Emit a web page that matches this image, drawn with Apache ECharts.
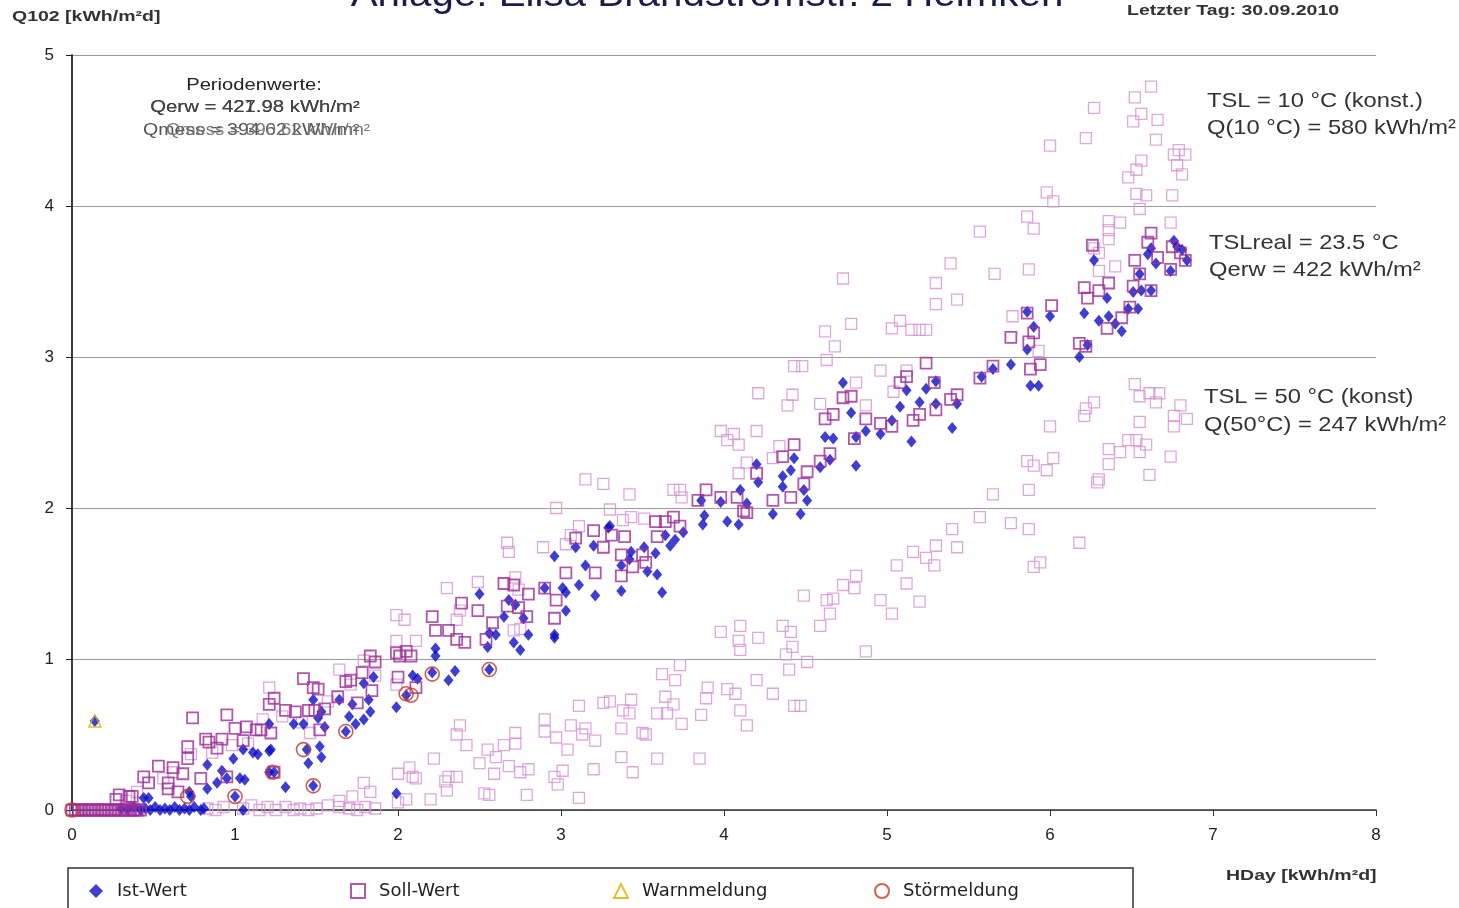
<!DOCTYPE html>
<html><head><meta charset="utf-8">
<script src="https://cdn.jsdelivr.net/npm/echarts@6/dist/echarts.min.js"></script>
<style>html,body{margin:0;padding:0;background:#fff}#c{width:1459px;height:908px}</style>
</head><body><div id="c"></div>
<script>
// ---- data (x = HDay kWh/m²d, y = Q102 kWh/m²d) ----
const xTicks = [0, 1, 2, 3, 4, 5, 6, 7, 8];
const yTicks = [0, 1, 2, 3, 4, 5];

const istWert = [
[0.14,0.59],
[0.30,0.01],[0.34,0.0],[0.38,0.02],[0.42,0.0],[0.45,0.01],[0.48,0.0],[0.51,0.02],[0.54,0.0],[0.57,0.01],[0.60,0.0],[0.63,0.02],[0.66,0.0],[0.69,0.01],[0.72,0.0],[0.75,0.02],[0.79,0.0],[0.81,0.01],[1.05,0.0],
[0.44,0.08],[0.47,0.08],[0.72,0.12],[0.73,0.09],[0.83,0.14],[0.89,0.18],[0.92,0.26],[0.95,0.21],[0.83,0.30],[1.00,0.09],[1.03,0.21],[1.06,0.20],[0.99,0.34],[1.05,0.40],[1.11,0.38],[1.14,0.37],[1.21,0.39],[1.22,0.40],[1.21,0.25],[1.24,0.25],[1.31,0.15],[1.21,0.57],[1.36,0.57],[1.44,0.40],[1.45,0.31],[1.52,0.42],[1.53,0.35],[1.48,0.16],[1.42,0.57],[1.48,0.73],[1.51,0.61],[1.55,0.55],[1.53,0.65],[1.64,0.73],[1.68,0.52],[1.70,0.62],[1.72,0.70],[1.74,0.57],[1.79,0.60],[1.83,0.65],[1.82,0.73],[1.85,0.88],[1.79,0.84],[1.99,0.68],[1.99,0.11],
[2.05,0.76],[2.09,0.89],[2.12,0.87],[2.21,0.91],[2.23,1.02],[2.23,1.07],[2.31,0.86],[2.35,0.92],[2.50,1.43],[2.55,1.08],[2.56,1.17],[2.56,0.93],[2.60,1.16],[2.65,1.28],[2.68,1.39],[2.72,1.36],[2.71,1.11],[2.75,1.06],[2.77,1.27],[2.80,1.16],[2.90,1.47],[2.96,1.68],[2.96,1.16],[2.96,1.14],
[3.01,1.47],[3.03,1.44],[3.03,1.32],[3.09,1.74],[3.11,1.49],[3.15,1.62],[3.20,1.75],[3.21,1.42],[3.29,1.87],[3.30,1.88],[3.37,1.62],[3.37,1.45],[3.43,1.71],[3.42,1.66],[3.51,1.74],[3.53,1.58],[3.58,1.70],[3.59,1.56],[3.62,1.44],[3.64,1.82],[3.67,1.75],[3.70,1.79],[3.75,1.84],[3.86,2.05],[3.87,1.89],[3.88,1.95],[3.98,2.04],
[4.02,1.91],[4.09,1.89],[4.10,2.12],[4.14,2.03],[4.20,2.29],[4.21,2.17],[4.30,1.96],[4.36,2.21],[4.36,2.14],[4.41,2.25],[4.43,2.33],[4.47,1.96],[4.49,2.12],[4.51,2.05],[4.59,2.27],[4.62,2.47],[4.65,2.32],[4.67,2.46],[4.73,2.83],[4.78,2.63],[4.81,2.28],[4.81,2.47],[4.87,2.51],[4.96,2.49],
[5.03,2.58],[5.08,2.67],[5.12,2.78],[5.15,2.44],[5.20,2.70],[5.24,2.79],[5.30,2.84],[5.30,2.69],[5.40,2.53],[5.43,2.69],[5.58,2.87],[5.65,2.92],[5.76,2.95],[5.86,3.30],[5.86,3.05],[5.90,3.20],[5.88,2.81],[5.93,2.81],
[6.00,3.27],[6.18,3.00],[6.23,3.08],[6.21,3.29],[6.27,3.64],[6.30,3.24],[6.36,3.27],[6.35,3.39],[6.40,3.22],[6.44,3.17],[6.48,3.32],[6.54,3.32],[6.51,3.43],[6.56,3.44],[6.55,3.55],[6.60,3.68],[6.62,3.72],[6.65,3.62],[6.62,3.44],[6.76,3.77],[6.74,3.57],[6.81,3.71],[6.84,3.64],[6.78,3.73]
];

const sollWert = [
[0,0],[0.02,0],[0.04,0],[0.06,0],[0.08,0],[0.10,0],[0.12,0],[0.14,0],[0.16,0],[0.18,0],[0.20,0],[0.22,0],[0.24,0],[0.26,0],[0.28,0],[0.30,0],[0.32,0],[0.34,0],[0.36,0],[0.38,0],[0.40,0],[0.42,0],
[0.27,0.07],[0.29,0.10],[0.35,0.09],[0.37,0.09],[0.44,0.22],[0.47,0.18],[0.53,0.29],[0.59,0.18],[0.59,0.14],[0.62,0.28],[0.65,0.12],[0.68,0.24],[0.71,0.42],[0.71,0.34],[0.74,0.61],[0.79,0.21],[0.82,0.47],[0.84,0.45],[0.89,0.41],[0.92,0.47],[0.95,0.63],[0.95,0.22],[1.00,0.54],[1.05,0.46],[1.07,0.55],[1.13,0.53],[1.16,0.53],[1.21,0.70],[1.22,0.51],[1.24,0.74],[1.24,0.25],[1.31,0.66],[1.37,0.65],[1.42,0.87],[1.45,0.66],[1.48,0.81],[1.51,0.80],[1.49,0.66],[1.52,0.53],[1.55,0.67],[1.63,0.75],[1.68,0.85],[1.71,0.86],[1.75,0.71],[1.78,0.91],[1.83,1.02],[1.86,0.98],[1.84,0.79],
[1.99,1.04],[2.00,0.88],[2.01,1.02],[2.05,1.05],[2.08,1.02],[2.11,0.81],[2.21,1.28],[2.23,1.19],[2.31,1.19],[2.36,1.13],[2.39,1.37],[2.41,1.11],[2.49,1.32],[2.54,1.13],[2.58,1.24],[2.65,1.50],[2.67,1.35],[2.71,1.49],[2.74,1.34],[2.79,1.28],[2.80,1.43],[2.90,1.47],[2.96,1.27],[2.97,1.39],
[3.03,1.57],[3.09,1.80],[3.20,1.85],[3.21,1.57],[3.26,1.74],[3.31,1.82],[3.37,1.69],[3.37,1.55],[3.39,1.81],[3.44,1.61],[3.50,1.69],[3.52,1.64],[3.58,1.91],[3.59,1.81],[3.64,1.91],[3.69,1.94],[3.73,1.88],[3.84,2.05],[3.89,2.12],[3.98,2.07],
[4.08,2.07],[4.12,1.98],[4.14,1.97],[4.20,2.23],[4.30,2.05],[4.36,2.34],[4.41,2.07],[4.43,2.42],[4.49,2.16],[4.51,2.24],[4.59,2.31],[4.62,2.59],[4.65,2.36],[4.67,2.62],[4.73,2.73],[4.78,2.74],[4.80,2.46],[4.87,2.59],[4.96,2.56],
[5.03,2.54],[5.08,2.83],[5.12,2.87],[5.16,2.58],[5.20,2.62],[5.24,2.96],[5.29,2.83],[5.30,2.65],[5.39,2.72],[5.43,2.75],[5.57,2.86],[5.65,2.94],[5.76,3.13],[5.86,3.29],[5.87,3.10],[5.90,3.16],[5.88,2.92],[5.94,2.95],
[6.01,3.34],[6.18,3.09],[6.22,3.07],[6.21,3.46],[6.26,3.74],[6.23,3.39],[6.30,3.44],[6.36,3.49],[6.44,3.26],[6.35,3.19],[6.49,3.33],[6.51,3.47],[6.55,3.55],[6.52,3.64],[6.62,3.44],[6.60,3.76],[6.62,3.82],[6.66,3.66],[6.74,3.58],[6.75,3.73],[6.80,3.69],[6.83,3.64]
];

// Soll-Wert at constant storage temperature 10 °C
const soll10 = [
[0.33,0.06],[0.40,0.12],[0.56,0.21],[0.62,0.25],[0.73,0.37],[0.86,0.38],[0.98,0.43],[1.08,0.44],[1.17,0.60],[1.21,0.81],[1.29,0.62],[1.41,0.58],[1.46,0.51],[1.57,0.72],[1.64,0.93],[1.71,0.83],[1.79,0.99],[1.86,0.89],[1.99,0.83],[1.99,1.12],[1.99,1.29],[2.04,1.26],[2.11,1.12],
[2.30,1.47],[2.38,1.32],[2.36,1.26],[2.49,1.51],[2.67,1.77],[2.68,1.71],[2.72,1.54],[2.74,1.46],[2.71,1.19],[2.75,1.20],[2.89,1.74],[2.97,2.00],[3.03,1.76],[3.06,1.82],[3.11,1.88],[3.15,2.19],[3.26,2.16],[3.30,1.99],[3.38,1.92],[3.43,1.94],[3.51,1.93],[3.42,2.09],[3.69,2.12],[3.73,2.12],[3.74,2.07],
[3.98,2.51],[4.06,2.49],[4.02,2.45],[4.09,2.42],[4.14,2.30],[4.09,2.23],[4.20,2.51],[4.30,2.33],[4.34,2.41],[4.21,2.76],[4.39,2.68],[4.42,2.75],[4.43,2.94],[4.48,2.94],[4.59,2.69],[4.62,3.17],[4.63,2.98],[4.68,3.07],[4.73,3.52],[4.78,3.22],[4.81,2.83],[4.87,2.68],[4.96,2.91],
[5.03,3.19],[5.04,2.77],[5.08,3.24],[5.12,2.91],[5.15,3.18],[5.20,3.18],[5.24,3.18],[5.30,3.49],[5.30,3.35],[5.39,3.62],[5.43,3.38],[5.57,3.83],[5.66,3.55],[5.77,3.27],[5.86,3.93],[5.87,3.58],[5.90,3.85],[5.93,3.04],[5.98,4.09],[6.00,4.40],[6.02,4.03],
[6.22,4.45],[6.27,4.65],[6.27,3.72],[6.30,3.69],[6.30,3.57],[6.36,3.90],[6.36,3.84],[6.36,3.78],[6.40,3.60],[6.43,3.89],[6.48,4.19],[6.51,4.56],[6.52,4.72],[6.53,4.24],[6.53,4.08],[6.55,3.98],[6.56,4.30],[6.56,4.61],[6.59,4.07],[6.62,4.79],[6.65,4.44],[6.66,4.57],[6.74,3.89],[6.75,4.07],[6.76,4.34],[6.78,4.27],[6.79,4.37],[6.81,4.21],[6.83,4.34]
];

// Soll-Wert at constant storage temperature 50 °C
const soll50 = [
[0.83,0.01],[0.88,0.0],[0.93,0.02],[1.05,0.01],[1.10,0.03],[1.15,0.0],[1.20,0.02],[1.25,0.0],[1.31,0.02],[1.36,0.0],[1.40,0.01],[1.45,0.0],[1.50,0.01],[1.57,0.03],[1.64,0.06],[1.64,0.02],[1.70,0.01],[1.75,0.0],[1.80,0.02],[1.86,0.01],[1.72,0.09],[1.79,0.18],[1.83,0.12],
[2.00,0.05],[2.00,0.24],[2.05,0.07],[2.07,0.28],[2.09,0.22],[2.11,0.21],[2.20,0.07],[2.22,0.34],[2.29,0.19],[2.30,0.13],[2.31,0.22],[2.36,0.22],[2.36,0.50],[2.38,0.56],[2.42,0.43],[2.50,0.31],[2.53,0.11],[2.56,0.10],[2.55,0.40],[2.59,0.24],[2.60,0.35],[2.65,0.43],[2.68,0.29],[2.72,0.51],[2.72,0.44],[2.75,0.25],[2.79,0.10],[2.80,0.27],[2.90,0.60],[2.90,0.52],[2.96,0.22],[2.97,0.48],[2.98,0.17],
[3.01,0.26],[3.04,0.40],[3.06,0.56],[3.11,0.69],[3.11,0.08],[3.13,0.50],[3.15,0.54],[3.20,0.27],[3.21,0.46],[3.26,0.71],[3.30,0.72],[3.37,0.54],[3.37,0.35],[3.38,0.66],[3.42,0.64],[3.43,0.73],[3.44,0.25],[3.50,0.51],[3.52,0.50],[3.59,0.64],[3.59,0.34],[3.62,0.90],[3.64,0.75],[3.65,0.64],[3.69,0.70],[3.70,0.86],[3.73,0.96],[3.74,0.57],[3.85,0.34],[3.86,0.63],[3.89,0.74],[3.90,0.81],[3.98,1.18],
[4.02,0.80],[4.07,0.77],[4.09,1.12],[4.10,1.22],[4.10,1.06],[4.10,0.66],[4.14,0.56],[4.21,1.14],[4.20,0.86],[4.30,0.77],[4.36,1.22],[4.38,1.03],[4.40,0.93],[4.41,1.18],[4.42,1.08],[4.43,0.69],[4.47,0.69],[4.49,1.42],[4.51,0.98],[4.59,1.22],[4.63,1.39],[4.65,1.30],[4.67,1.40],[4.73,1.49],[4.81,1.55],[4.80,1.47],[4.87,1.05],[4.96,1.39],
[5.03,1.30],[5.06,1.62],[5.12,1.50],[5.16,1.71],[5.20,1.38],[5.24,1.67],[5.29,1.62],[5.30,1.75],[5.40,1.86],[5.43,1.74],[5.57,1.94],[5.65,2.09],[5.76,1.90],[5.86,2.31],[5.87,2.12],[5.87,1.86],[5.90,2.28],[5.90,1.61],[5.94,1.64],[5.98,2.25],
[6.00,2.54],[6.02,2.33],[6.18,1.77],[6.21,2.61],[6.22,2.66],[6.27,2.70],[6.29,2.17],[6.30,2.19],[6.36,2.39],[6.36,2.29],[6.43,2.37],[6.48,2.45],[6.52,2.82],[6.53,2.45],[6.55,2.74],[6.55,2.57],[6.55,2.37],[6.59,2.42],[6.61,2.76],[6.61,2.22],[6.67,2.76],[6.65,2.70],[6.74,2.34],[6.76,2.61],[6.76,2.54],[6.80,2.68],[6.84,2.59]
];

const warnmeldung = [[0.14,0.59]];
const stoermeldung = [[0,0],[0.71,0.09],[1.00,0.09],[1.23,0.25],[1.42,0.40],[1.48,0.16],[1.68,0.52],[2.05,0.77],[2.08,0.76],[2.21,0.90],[2.56,0.93]];

const legendNames = ['Ist-Wert', 'Soll-Wert', 'Warnmeldung', 'Störmeldung'];

// ---- chart ----
const chart = echarts.init(document.getElementById('c'), null, {renderer: 'canvas'});
const FF = '"Liberation Sans", Arial, sans-serif';
const hollow = 'rgba(0,0,0,0)';

function txt(x, y, s, o) {
  o = o || {};
  return {
    type: 'text', x: x, y: y, scaleX: o.sx || 1, z: o.z || 50, silent: true,
    style: {
      text: s, fontSize: o.fs || 16, fontFamily: FF, fontWeight: o.fw || 'normal',
      fill: o.fill || '#222', align: o.align || 'left', verticalAlign: 'middle'
    }
  };
}

const legendLeft = [89, 350, 613, 874];
const legends = legendNames.map((n, i) => ({
  data: [n], left: legendLeft[i], top: 882, padding: 0, itemWidth: 14, itemHeight: 14,
  textStyle: {fontSize: 18, fontFamily: '"DejaVu Sans", sans-serif', color: '#222', padding: [0, 0, 0, 9]},
  selectedMode: false
}));

const option = {
  animation: false,
  backgroundColor: '#fff',
  grid: {left: 72, right: 83, top: 55, bottom: 98, containLabel: false},
  legend: legends,
  xAxis: {
    type: 'value', min: xTicks[0], max: xTicks[xTicks.length - 1], interval: 1,
    axisLine: {show: true, onZero: false, lineStyle: {color: '#333', width: 1.5}},
    axisTick: {show: true, length: 6, lineStyle: {color: '#333'}},
    axisLabel: {fontSize: 17, fontFamily: FF, color: '#222', margin: 17},
    splitLine: {show: false}
  },
  yAxis: [{
    type: 'value', min: yTicks[0], max: yTicks[yTicks.length - 1], interval: 1,
    axisLine: {show: true, onZero: false, lineStyle: {color: '#222', width: 1.5}},
    axisTick: {show: true, length: 6, lineStyle: {color: '#222'}},
    axisLabel: {fontSize: 17, fontFamily: FF, color: '#222', margin: 18},
    splitLine: {show: true, lineStyle: {color: '#9a9a9a', width: 1}}
  }, {
    type: 'value', position: 'right', min: 0, max: 5, interval: 1,
    axisLine: {show: true, lineStyle: {color: '#333', width: 1.5}},
    axisTick: {show: false}, axisLabel: {show: false}, splitLine: {show: false}
  }],
  series: [
    {name: 'Soll 10 °C', type: 'scatter', data: soll10, symbol: 'rect', symbolSize: 11, z: 2,
     itemStyle: {color: hollow, borderColor: '#d592d5', borderWidth: 1.3}, emphasis: {disabled: true}},
    {name: 'Soll 50 °C', type: 'scatter', data: soll50, symbol: 'rect', symbolSize: 11, z: 2,
     itemStyle: {color: hollow, borderColor: '#d592d5', borderWidth: 1.3}, emphasis: {disabled: true}},
    {name: 'Ist-Wert', type: 'scatter', data: istWert, symbol: 'diamond', symbolSize: [10, 12], z: 3,
     itemStyle: {color: '#0e0ec4'}, emphasis: {disabled: true}},
    {name: 'Soll-Wert', type: 'scatter', data: sollWert, symbol: 'rect', symbolSize: 11, z: 4,
     itemStyle: {color: hollow, borderColor: '#9c2e99', borderWidth: 1.8}, emphasis: {disabled: true}},
    {name: 'Warnmeldung', type: 'scatter', data: warnmeldung, symbol: 'triangle', symbolSize: 12, z: 5,
     itemStyle: {color: hollow, borderColor: '#d6b000', borderWidth: 1.5}, emphasis: {disabled: true}},
    {name: 'Störmeldung', type: 'scatter', data: stoermeldung, symbol: 'circle', symbolSize: 14, z: 5,
     itemStyle: {color: hollow, borderColor: '#c0392b', borderWidth: 1.6}, emphasis: {disabled: true}}
  ],
  graphic: [
    txt(707, -4, 'Anlage: Elisa Brandströmstr. 2 Helmken', {fs: 36, sx: 1.12, fill: '#1c1c4c', align: 'center'}),
    txt(12, 17, 'Q102 [kWh/m²d]', {fs: 15, fw: 'bold', sx: 1.3, fill: '#333'}),
    txt(1127, 11, 'Letzter Tag: 30.09.2010', {fs: 15, fw: 'bold', sx: 1.3, fill: '#333'}),
    txt(1226, 876, 'HDay [kWh/m²d]', {fs: 15, fw: 'bold', sx: 1.3, fill: '#333'}),
    txt(254, 86, 'Periodenwerte:', {fs: 16, sx: 1.26, align: 'center'}),
    txt(255, 108, 'Qerw = 427.98 kWh/m²', {fs: 16, sx: 1.27, align: 'center', fill: '#333'}),
    txt(255, 108, 'Qerw = 421.98 kWh/m²', {fs: 16, sx: 1.27, align: 'center', fill: '#444'}),
    txt(143, 131, 'Qmess = 394.62 kWh/m²', {fs: 16, sx: 1.22, fill: '#555'}),
    txt(166, 131, 'Qmess = 390.62 kWh/m²', {fs: 16, sx: 1.15, fill: '#777'}),
    txt(1207, 101, 'TSL = 10 °C (konst.)', {fs: 21, sx: 1.13, fill: '#333', z: 1}),
    txt(1207, 128, 'Q(10 °C) = 580 kWh/m²', {fs: 21, sx: 1.13, fill: '#333', z: 1}),
    txt(1209, 243, 'TSLreal = 23.5 °C', {fs: 21, sx: 1.13, fill: '#333', z: 1}),
    txt(1209, 270, 'Qerw = 422 kWh/m²', {fs: 21, sx: 1.13, fill: '#333', z: 1}),
    txt(1204, 397, 'TSL = 50 °C (konst)', {fs: 21, sx: 1.13, fill: '#333', z: 1}),
    txt(1204, 425, 'Q(50°C) = 247 kWh/m²', {fs: 21, sx: 1.13, fill: '#333', z: 1}),
    {type: 'rect', silent: true, z: 0, shape: {x: 68, y: 868, width: 1065, height: 60},
     style: {fill: 'none', stroke: '#333', lineWidth: 1.5}}
  ]
};
chart.setOption(option);
</script>
</body></html>
